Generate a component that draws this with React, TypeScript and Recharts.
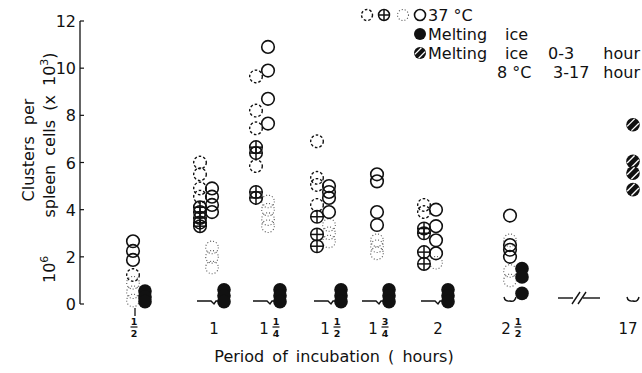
import { ScatterChart, Scatter, XAxis, YAxis, ReferenceDot, Customized } from "recharts";

// hours of incubation (x categories)
const categories = ["1/2", "1", "1 1/4", "1 1/2", "1 3/4", "2", "2 1/2", "17"];
const yTicks = [0, 2, 4, 6, 8, 10, 12];

// clusters per 10^6 spleen cells (x 10^3), one list per category
const dashed37 = [[1.23], [6.0, 5.5, 4.9, 4.55], [9.65, 8.2, 7.45, 5.85], [6.9, 5.35, 5.05, 4.2], [], [4.2, 3.9], [], []];
const crossed37 = [[], [4.1, 3.9, 3.65, 3.45, 3.3], [6.65, 6.4, 4.75, 4.5], [3.7, 2.95, 2.45], [], [3.2, 3.0, 2.2, 1.7], [], []];
const dotted37 = [[0.9, 0.5, 0.15], [2.4, 2.0, 1.55], [4.35, 4.0, 3.6, 3.3], [3.35, 3.0, 2.65], [2.7, 2.45, 2.15], [1.75], [2.7, 1.4, 1.0], []];
const open37 = [[2.66, 2.25, 1.87], [4.9, 4.55, 4.2, 3.9], [10.9, 9.9, 8.7, 7.65], [5.0, 4.75, 4.5, 3.9], [5.5, 5.2, 3.9, 3.35], [4.0, 3.3, 2.7, 2.15], [3.75, 2.5, 2.3, 2.0], []];
const meltingIce = [[0.55, 0.3, 0.1], [0.6, 0.35, 0.1], [0.6, 0.35, 0.1], [0.6, 0.35, 0.1], [0.6, 0.35, 0.1], [0.6, 0.35, 0.1], [1.5, 1.15, 0.45], []];
const iceThen8C = [[], [], [], [], [], [], [], [7.6, 6.05, 5.55, 4.85]];

// layout: slot of each category on the x axis (axis is not to scale, it has a break)
const slots = [54, 133, 189, 250, 298, 357, 431, 554];
const breakSlot = 499;
const split = [false, true, true, true, true, true, true, false];
const colOffset = { left: -13, mid: -1, right: 11 };

const INK = "#111";
const FONT = "'DejaVu Sans', 'Liberation Sans', sans-serif";
const R = 6.3;

type Col = "left" | "mid" | "right";
function pts(values: number[][], col: Col) {
  return values.flatMap((vals, g) =>
    vals.map((v) => ({ x: slots[g] + (col === "left" && !split[g] ? colOffset.mid : colOffset[col]), y: v }))
  );
}

const baseMarks = categories.map((_, g) => ({ x: slots[g] + colOffset.mid, y: 0, g }));

function DashedCircle({ cx, cy, r = R }: any) {
  return <circle cx={cx} cy={cy} r={r} fill="none" stroke={INK} strokeWidth={1.4} strokeDasharray="2.6 2" />;
}
function DottedCircle({ cx, cy, r = R }: any) {
  return <circle cx={cx} cy={cy} r={r} fill="none" stroke="#555" strokeWidth={1.1} strokeDasharray="1 2" />;
}
function OpenCircle({ cx, cy, r = R }: any) {
  return <circle cx={cx} cy={cy} r={r} fill="none" stroke={INK} strokeWidth={1.6} />;
}
function CrossedCircle({ cx, cy, r = R }: any) {
  return (
    <g stroke={INK} strokeWidth={1.5} fill="none">
      <circle cx={cx} cy={cy} r={r} />
      <line x1={cx - r} y1={cy} x2={cx + r} y2={cy} />
      <line x1={cx} y1={cy - r} x2={cx} y2={cy + r} />
    </g>
  );
}
function FilledCircle({ cx, cy, r = R + 0.5 }: any) {
  return <circle cx={cx} cy={cy} r={r} fill={INK} />;
}
function HatchedCircle({ cx, cy, r = R + 0.5 }: any) {
  const s = r * 0.45;
  const h = r * 0.55;
  return (
    <g>
      <circle cx={cx} cy={cy} r={r} fill={INK} />
      {[-1, 1].map((k) => (
        <line key={k} x1={cx + k * s * 0.7 - h} y1={cy + k * s * 0.7 + h} x2={cx + k * s * 0.7 + h} y2={cy + k * s * 0.7 - h}
          stroke="#fff" strokeWidth={1.3} />
      ))}
    </g>
  );
}

function BaseMark({ cx, cy, payload }: any) {
  const g = payload.g;
  if (g === 0) return <line x1={cx + 2} y1={cy + 4} x2={cx + 2} y2={cy + 12} stroke={INK} strokeWidth={1.3} />;
  if (g >= 6) {
    return <path d={`M${cx - 6},${cy - 7} Q${cx - 5},${cy - 2} ${cx},${cy - 3} Q${cx + 5},${cy - 2} ${cx + 6},${cy - 7}`}
      fill="none" stroke={INK} strokeWidth={1.4} />;
  }
  return <path d={`M${cx - 15},${cy - 3} L${cx - 1},${cy - 3} L${cx + 2},${cy} L${cx + 4},${cy - 3} L${cx + 8},${cy - 3}`}
    fill="none" stroke={INK} strokeWidth={1.4} />;
}

function BreakMark({ cx, cy }: any) {
  return (
    <g stroke={INK} strokeWidth={1.4} fill="none">
      <line x1={cx - 21} y1={cy - 6} x2={cx - 6} y2={cy - 6} />
      <line x1={cx + 4} y1={cy - 6} x2={cx + 21} y2={cy - 6} />
      <line x1={cx - 7} y1={cy} x2={cx + 1} y2={cy - 12} />
      <line x1={cx - 1} y1={cy} x2={cx + 7} y2={cy - 12} />
    </g>
  );
}

function YTick({ y, payload }: any) {
  return (
    <g>
      <line x1={80} y1={y} x2={84} y2={y} stroke={INK} strokeWidth={1.2} />
      <text x={76} y={y + 6} textAnchor="end" fontSize={16} fontFamily={FONT} fill={INK}>{payload.value}</text>
    </g>
  );
}

function Fraction({ x, num, den }: { x: number; num: string; den: string }) {
  return (
    <g fontSize={9.5} fontWeight="bold" fontFamily={FONT} fill={INK} textAnchor="middle">
      <text x={x} y={325}>{num}</text>
      <line x1={x - 3.5} y1={327} x2={x + 3.5} y2={327} stroke={INK} strokeWidth={1.2} />
      <text x={x} y={337}>{den}</text>
    </g>
  );
}

function XTick({ x, payload }: any) {
  const i = slots.indexOf(payload.value);
  const label = categories[i] ?? "";
  const parts = label.split(" ");
  const whole = parts.length === 2 ? parts[0] : label.includes("/") ? "" : label;
  const frac = label.includes("/") ? parts[parts.length - 1].split("/") : null;
  if (!frac) {
    // last category sits at the right edge; keep it inside the frame
    const tx = i === categories.length - 1 ? x - 6 : x + 1;
    return <text x={tx} y={334} textAnchor="middle" fontSize={15} fontFamily={FONT} fill={INK}>{whole}</text>;
  }
  if (!whole) return <Fraction x={x} num={frac[0]} den={frac[1]} />;
  return (
    <g>
      <text x={x - 5} y={334} textAnchor="middle" fontSize={15} fontFamily={FONT} fill={INK}>{whole}</text>
      <Fraction x={x + 7} num={frac[0]} den={frac[1]} />
    </g>
  );
}

function Annotations() {
  const t = { fontFamily: FONT, fill: INK, fontSize: 16 };
  return (
    <g>
      {/* y axis title */}
      <text {...t} x={0} y={0} transform="translate(34,150) rotate(-90)" textAnchor="middle" wordSpacing={6}>Clusters per</text>
      <text {...t} x={0} y={0} transform="translate(55,283) rotate(-90)" textAnchor="start">
        10<tspan fontSize={11} dy={-7}>6</tspan>
      </text>
      <text {...t} x={0} y={0} transform="translate(55,135) rotate(-90)" textAnchor="middle" wordSpacing={4}>
        spleen cells (x 10<tspan fontSize={11} dy={-7}>3</tspan><tspan dy={7}>)</tspan>
      </text>
      {/* x axis title */}
      <text {...t} x={334} y={362} textAnchor="middle" wordSpacing={3}>Period of incubation ( hours)</text>
      {/* legend */}
      <DashedCircle cx={367} cy={15} r={5.5} />
      <CrossedCircle cx={384} cy={15} r={5.5} />
      <DottedCircle cx={403} cy={15} r={5.5} />
      <OpenCircle cx={420} cy={15} r={5.5} />
      <text {...t} x={428} y={21}>37 °C</text>
      <FilledCircle cx={420} cy={34} r={6} />
      <text {...t} x={428} y={40}>Melting</text>
      <text {...t} x={505} y={40}>ice</text>
      <HatchedCircle cx={420} cy={53} r={6} />
      <text {...t} x={428} y={59}>Melting</text>
      <text {...t} x={505} y={59}>ice</text>
      <text {...t} x={548} y={59}>0-3</text>
      <text {...t} x={640} y={59} textAnchor="end">hour</text>
      <text {...t} x={497} y={78}>8 °C</text>
      <text {...t} x={553} y={78}>3-17</text>
      <text {...t} x={640} y={78} textAnchor="end">hour</text>
    </g>
  );
}

export default function App() {
  return (
    <div style={{ position: "absolute", left: 0, top: 0, width: 642, height: 373, background: "#fff" }}>
      <ScatterChart width={642} height={373} margin={{ top: 21, right: 0, bottom: 0, left: 0 }}>
        <XAxis type="number" dataKey="x" domain={[0, 562]} ticks={slots} interval={0} height={69}
          axisLine={false} tickLine={false} tick={<XTick />} allowDataOverflow />
        <YAxis type="number" dataKey="y" domain={[0, 12]} ticks={yTicks} interval={0} width={80}
          axisLine={{ stroke: INK, strokeWidth: 1.3 }} tickLine={false} tick={<YTick />} />
        <Scatter data={baseMarks} shape={BaseMark} isAnimationActive={false} />
        <Scatter data={pts(dotted37, "mid")} shape={DottedCircle} isAnimationActive={false} />
        <Scatter data={pts(dashed37, "left")} shape={DashedCircle} isAnimationActive={false} />
        <Scatter data={pts(open37, "mid")} shape={OpenCircle} isAnimationActive={false} />
        <Scatter data={pts(crossed37, "left")} shape={CrossedCircle} isAnimationActive={false} />
        <Scatter data={pts(meltingIce, "right")} shape={FilledCircle} isAnimationActive={false} />
        <Scatter data={pts(iceThen8C, "mid")} shape={HatchedCircle} isAnimationActive={false} />
        <ReferenceDot x={breakSlot} y={0} shape={BreakMark} ifOverflow="visible" />
        <Customized component={Annotations} />
      </ScatterChart>
    </div>
  );
}
